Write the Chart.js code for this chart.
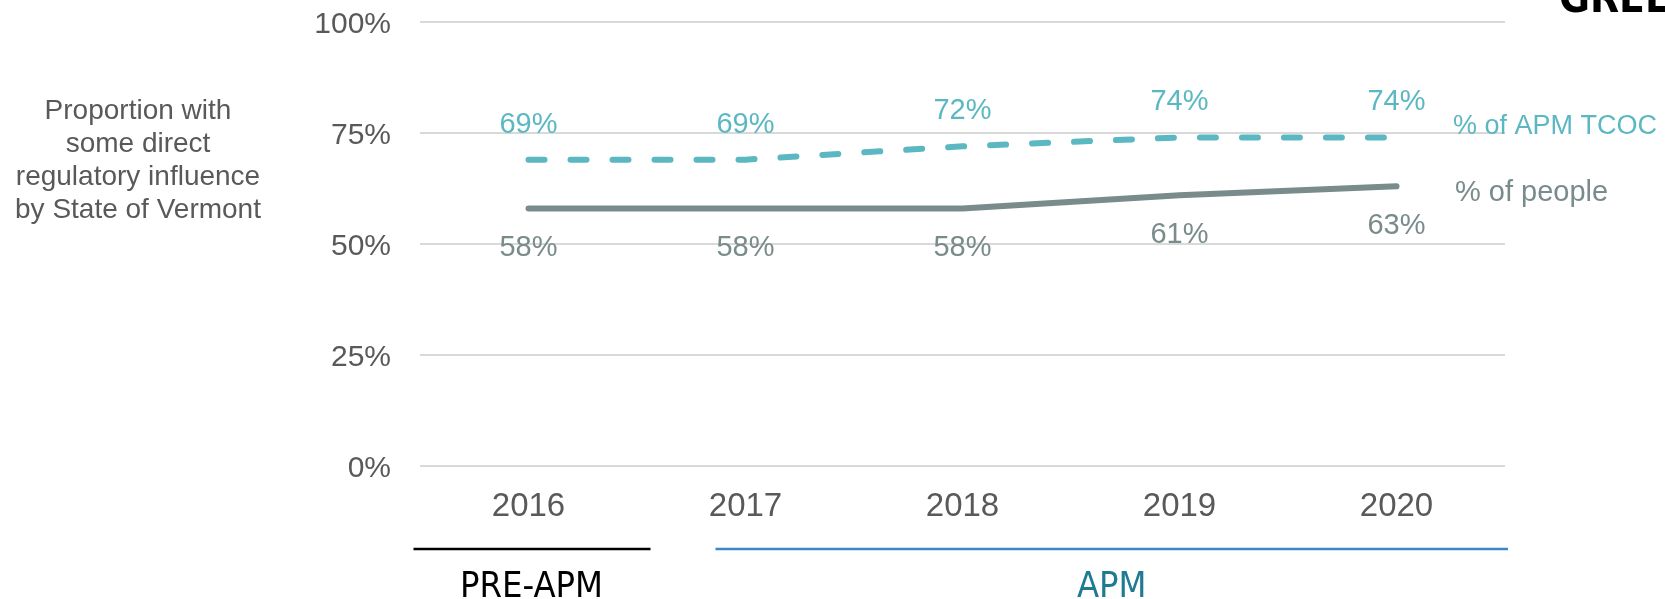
<!DOCTYPE html>
<html>
<head>
<meta charset="utf-8">
<script src="https://cdn.jsdelivr.net/npm/chart.js@4.4.1/dist/chart.umd.min.js"></script>
<style>
  html, body { margin: 0; padding: 0; background: #ffffff; }
  #wrap { position: relative; width: 1665px; height: 599px; }
</style>
</head>
<body>
<div id="wrap"><canvas id="chart"></canvas></div>
<script>
const years = ["2016", "2017", "2018", "2019", "2020"];
const apmTcoc = [69, 69, 72, 74, 74];
const people = [58, 58, 58, 61, 63];
const yTicks = [0, 25, 50, 75, 100];
const titleLines = ["Proportion with", "some direct", "regulatory influence", "by State of Vermont"];
const seriesNames = ["% of APM TCOC", "% of people"];
const periods = ["PRE-APM", "APM"];

const TEAL = "#5bb8c2";
const GREY = "#7a8b8c";
const TEXT = "#595959";
const FONT = "'Liberation Sans', Arial, sans-serif";
const NARROW = "'Liberation Sans Narrow', 'DejaVu Sans Condensed', sans-serif";

// value labels above / below each point, plus series names at the right end
const labelsPlugin = {
  id: "labels",
  afterDatasetsDraw(chart) {
    const ctx = chart.ctx;
    ctx.save();
    ctx.textAlign = "center";
    ctx.textBaseline = "middle";
    ctx.font = "29px " + FONT;
    chart.data.datasets.forEach((ds, i) => {
      const meta = chart.getDatasetMeta(i);
      ctx.fillStyle = ds.borderColor;
      meta.data.forEach((pt, j) => {
        const dy = i === 0 ? -35 : 40;
        ctx.fillText(ds.data[j] + "%", pt.x, pt.y + dy);
      });
    });

    const area = chart.chartArea;
    ctx.textAlign = "left";
    const lastA = chart.getDatasetMeta(0).data[4];
    const lastP = chart.getDatasetMeta(1).data[4];
    ctx.fillStyle = TEAL;
    ctx.font = "27px " + FONT;
    ctx.fillText(seriesNames[0], area.right - 52, lastA.y - 11);
    ctx.fillStyle = GREY;
    ctx.font = "29px " + FONT;
    ctx.fillText(seriesNames[1], area.right - 50, lastP.y + 7);

    // y axis title on the left
    ctx.textAlign = "center";
    ctx.fillStyle = TEXT;
    ctx.font = "28px " + FONT;
    titleLines.forEach((t, k) => ctx.fillText(t, 138, 111 + k * 33));

    // period bars under the x axis
    const x = chart.scales.x;
    const x0 = x.getPixelForValue(0);
    const x1 = x.getPixelForValue(1);
    ctx.lineWidth = 2.5;
    ctx.strokeStyle = "#000000";
    ctx.beginPath();
    ctx.moveTo(x0 - 115, 549);
    ctx.lineTo(x0 + 122, 549);
    ctx.stroke();
    ctx.strokeStyle = "#3c87c9";
    ctx.beginPath();
    ctx.moveTo(x1 - 30, 549);
    ctx.lineTo(area.right + 3, 549);
    ctx.stroke();

    ctx.textBaseline = "alphabetic";
    ctx.font = "36px " + NARROW;
    ctx.fillStyle = "#000000";
    ctx.fillText(periods[0], x0 + 3, 597);
    ctx.fillStyle = "#1e7b91";
    ctx.fillText(periods[1], (x1 - 30 + area.right + 3) / 2, 597);

    // cut-off heading in the top right corner
    ctx.textAlign = "left";
    ctx.font = "bold 42px " + NARROW;
    ctx.fillStyle = "#000000";
    ctx.fillText("GREEN", 1559, 12);
    ctx.restore();
  },
};

new Chart(document.getElementById("chart"), {
  type: "line",
  data: {
    labels: years,
    datasets: [
      {
        label: seriesNames[0],
        data: apmTcoc,
        borderColor: TEAL,
        borderWidth: 6,
        borderDash: [16, 26],
        borderCapStyle: "round",
        pointRadius: 0,
        tension: 0,
      },
      {
        label: seriesNames[1],
        data: people,
        borderColor: GREY,
        borderWidth: 6,
        borderCapStyle: "round",
        pointRadius: 0,
        tension: 0,
      },
    ],
  },
  options: {
    responsive: true,
    maintainAspectRatio: false,
    animation: false,
    layout: { padding: { top: 22, right: 160, left: 0, bottom: 0 } },
    plugins: { legend: { display: false }, tooltip: { enabled: false } },
    scales: {
      x: {
        offset: true,
        grid: { display: false, drawTicks: false },
        border: { display: false },
        ticks: { color: TEXT, font: { size: 33, family: FONT }, padding: 21 },
        afterFit(scale) {
          scale.height = 133;
          scale.paddingLeft = 0;
          scale.paddingRight = 0;
        },
      },
      y: {
        min: 0,
        max: 100,
        afterBuildTicks(scale) { scale.ticks = yTicks.map((v) => ({ value: v })); },
        grid: { color: "#d9d9d9", lineWidth: 2, drawTicks: false },
        border: { display: false },
        ticks: {
          color: TEXT,
          font: { size: 30, family: FONT },
          padding: 29,
          labelOffset: 3,
          callback: (v) => v + "%",
        },
        afterFit(scale) {
          scale.width = 420;
          scale.paddingTop = 0;
          scale.paddingBottom = 0;
        },
      },
    },
  },
  plugins: [labelsPlugin],
});
</script>
</body>
</html>
